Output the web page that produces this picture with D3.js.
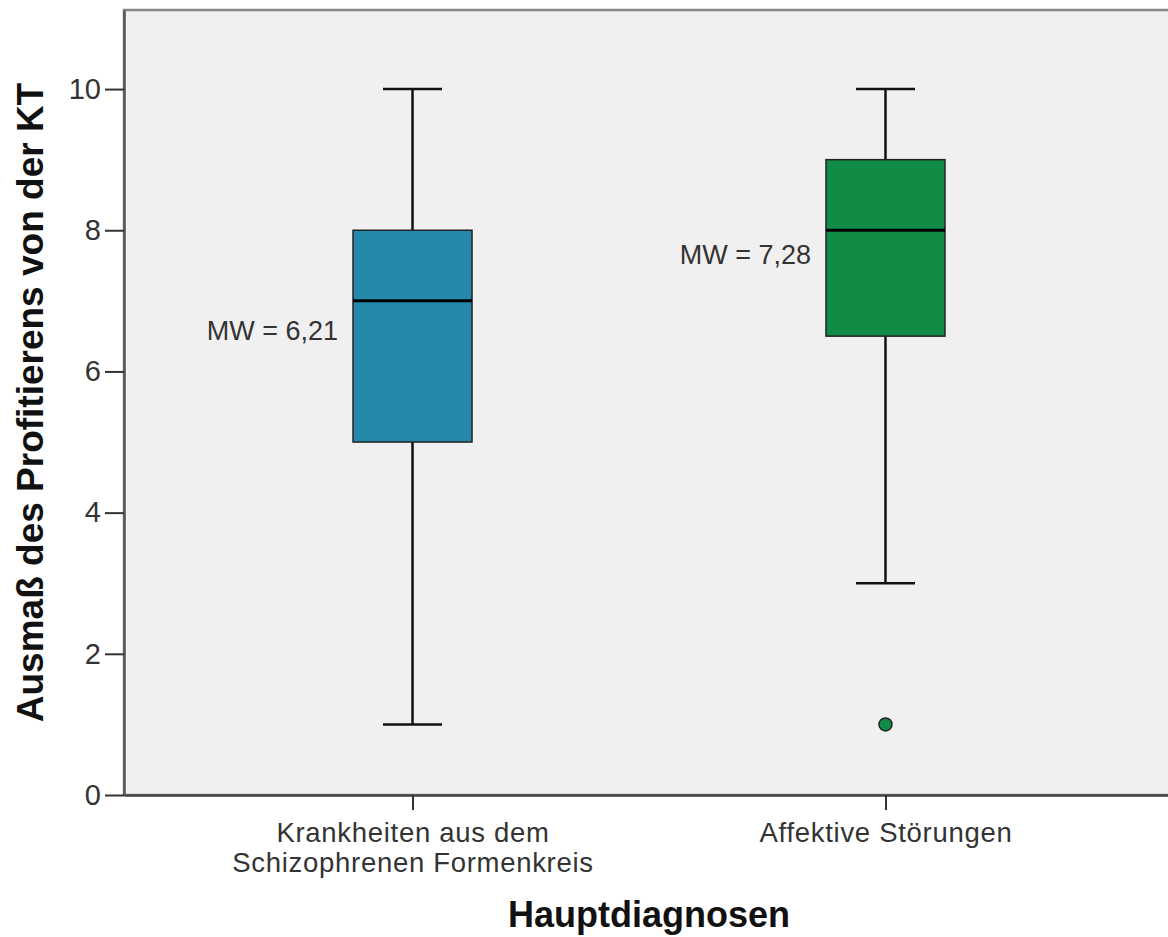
<!DOCTYPE html>
<html>
<head>
<meta charset="utf-8">
<script src="https://cdn.jsdelivr.net/npm/d3@7"></script>
<style>
  html, body { margin: 0; padding: 0; background: #fff; }
  svg { display: block; }
</style>
</head>
<body>
<div id="chart"></div>
<script>
// data
const categories = ["schizo", "affektiv"];
const categoryLabels = [
  ["Krankheiten aus dem", "Schizophrenen Formenkreis"],
  ["Affektive Störungen"]
];
const whiskerLow = [1, 3];
const q1 = [5, 6.5];
const median = [7, 8];
const q3 = [8, 9];
const whiskerHigh = [10, 10];
const means = [6.21, 7.28];
const meanLabels = ["MW = 6,21", "MW = 7,28"];
const outliers = [[], [1]];
const yTicks = [0, 2, 4, 6, 8, 10];
const fills = ["#2489ab", "#118c47"];

const width = 1168, height = 937;
const margin = { top: 10, right: -6, bottom: 142, left: 124 };

const svg = d3.select("#chart").append("svg")
  .attr("width", width)
  .attr("height", height)
  .attr("font-family", "'Liberation Sans', Arial, sans-serif");

const x = d3.scalePoint()
  .domain(categories)
  .range([margin.left, width - margin.right])
  .padding(0.61);

const y = d3.scaleLinear()
  .domain([0, 11.12])
  .range([height - margin.bottom, margin.top]);

const boxW = 119, capW = 59;

// plot background + frame
svg.append("rect")
  .attr("x", margin.left)
  .attr("y", margin.top)
  .attr("width", width - margin.left - margin.right)
  .attr("height", height - margin.top - margin.bottom)
  .attr("fill", "#f0f0f0")
  .attr("stroke", "#888")
  .attr("stroke-width", 2.5);

// y axis
const yAxis = svg.append("g")
  .attr("transform", `translate(${margin.left},0)`)
  .call(d3.axisLeft(y).tickValues(yTicks).tickSize(19).tickPadding(4).tickSizeOuter(0));
yAxis.select(".domain").attr("stroke", "#555").attr("stroke-width", 2.5);
yAxis.selectAll(".tick line").attr("stroke", "#333").attr("stroke-width", 2);
yAxis.selectAll(".tick text")
  .attr("font-size", 29)
  .attr("fill", "#333")
  .attr("font-family", "'Liberation Sans', Arial, sans-serif");

// x axis
const xAxis = svg.append("g")
  .attr("transform", `translate(0,${height - margin.bottom})`)
  .call(d3.axisBottom(x).tickSize(15).tickSizeOuter(0).tickFormat(""));
xAxis.select(".domain").attr("stroke", "#444").attr("stroke-width", 2.5);
xAxis.selectAll(".tick line").attr("stroke", "#333").attr("stroke-width", 2);

xAxis.selectAll(".tick").each(function (d, i) {
  const t = d3.select(this).append("text")
    .attr("fill", "#333")
    .attr("font-size", 27.5)
    .attr("letter-spacing", 0.7)
    .attr("text-anchor", "middle");
  categoryLabels[i].forEach((line, j) => {
    t.append("tspan").attr("x", 0).attr("y", 47 + j * 30).text(line);
  });
});

// boxes
const g = svg.append("g");
categories.forEach((c, i) => {
  const cx = x(c);
  const b = g.append("g");
  // whiskers
  b.append("line")
    .attr("x1", cx).attr("x2", cx)
    .attr("y1", y(whiskerHigh[i])).attr("y2", y(q3[i]))
    .attr("stroke", "#111").attr("stroke-width", 2.5);
  b.append("line")
    .attr("x1", cx).attr("x2", cx)
    .attr("y1", y(q1[i])).attr("y2", y(whiskerLow[i]))
    .attr("stroke", "#111").attr("stroke-width", 2.5);
  [whiskerHigh[i], whiskerLow[i]].forEach(v => {
    b.append("line")
      .attr("x1", cx - capW / 2).attr("x2", cx + capW / 2)
      .attr("y1", y(v)).attr("y2", y(v))
      .attr("stroke", "#111").attr("stroke-width", 2.5);
  });
  // box
  b.append("rect")
    .attr("x", cx - boxW / 2)
    .attr("y", y(q3[i]))
    .attr("width", boxW)
    .attr("height", y(q1[i]) - y(q3[i]))
    .attr("fill", fills[i])
    .attr("stroke", "#222")
    .attr("stroke-width", 1.5);
  // median
  b.append("line")
    .attr("x1", cx - boxW / 2).attr("x2", cx + boxW / 2)
    .attr("y1", y(median[i])).attr("y2", y(median[i]))
    .attr("stroke", "#000").attr("stroke-width", 3);
  // outliers
  outliers[i].forEach(v => {
    b.append("circle")
      .attr("cx", cx).attr("cy", y(v)).attr("r", 6.5)
      .attr("fill", fills[i])
      .attr("stroke", "#222").attr("stroke-width", 1.5);
  });
  // mean label
  b.append("text")
    .attr("x", cx - boxW / 2 - 15)
    .attr("y", y(means[i]) - 17)
    .attr("text-anchor", "end")
    .attr("font-size", 27)
    .attr("fill", "#333")
    .text(meanLabels[i]);
});

// axis titles
svg.append("text")
  .attr("x", (margin.left + width - margin.right) / 2)
  .attr("y", 927)
  .attr("text-anchor", "middle")
  .attr("font-size", 36)
  .attr("font-weight", "bold")
  .attr("fill", "#111")
  .text("Hauptdiagnosen");

svg.append("text")
  .attr("transform", `translate(43,${(margin.top + height - margin.bottom) / 2}) rotate(-90)`)
  .attr("text-anchor", "middle")
  .attr("font-size", 37)
  .attr("font-weight", "bold")
  .attr("fill", "#111")
  .text("Ausmaß des Profitierens von der KT");
</script>
</body>
</html>
